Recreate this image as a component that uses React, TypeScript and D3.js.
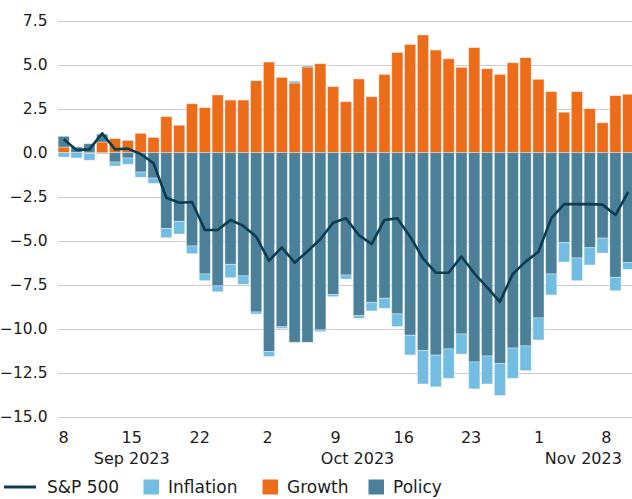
import React from "react";
import * as d3 from "d3";

const dates = [
  "2023-09-08", "2023-09-11", "2023-09-12", "2023-09-13", "2023-09-14", "2023-09-15",
  "2023-09-18", "2023-09-19", "2023-09-20", "2023-09-21", "2023-09-22",
  "2023-09-25", "2023-09-26", "2023-09-27", "2023-09-28", "2023-09-29",
  "2023-10-02", "2023-10-03", "2023-10-04", "2023-10-05", "2023-10-06",
  "2023-10-09", "2023-10-10", "2023-10-11", "2023-10-12", "2023-10-13",
  "2023-10-16", "2023-10-17", "2023-10-18", "2023-10-19", "2023-10-20",
  "2023-10-23", "2023-10-24", "2023-10-25", "2023-10-26", "2023-10-27",
  "2023-10-30", "2023-10-31", "2023-11-01", "2023-11-02", "2023-11-03",
  "2023-11-06", "2023-11-07", "2023-11-08", "2023-11-09",
];

const growth = [
  0.32, 0, -0.05, 0.61, 0.8, 0.7, 1.1, 0.87, 2.05, 1.56, 2.78, 2.56, 3.28, 2.99, 2.99,
  4.09, 5.15, 4.28, 3.96, 4.87, 5.06, 3.75, 2.9, 4.19, 3.18, 4.45, 5.69, 6.15, 6.69, 5.83,
  5.34, 4.85, 5.97, 4.77, 4.45, 5.11, 5.4, 4.17, 3.47, 2.3, 3.47, 2.5, 1.7, 3.24, 3.32,
];

const policy = [
  0.61, 0.32, 0.51, 0.44, -0.53, -0.3, -1.1, -1.44, -4.3, -3.9, -5.3, -6.89, -7.57, -6.34, -7.0,
  -9.05, -11.3, -9.89, -10.77, -10.77, -10.07, -8.05, -6.95, -9.26, -8.5, -8.27, -9.16, -10.37, -11.23, -11.5,
  -11.15, -10.3, -11.89, -11.55, -11.97, -11.1, -10.98, -9.39, -6.89, -5.11, -5.98, -5.4, -4.85, -7.08, -6.25,
];

const inflation = [
  -0.25, -0.3, -0.38, 0, -0.23, -0.36, -0.3, -0.3, -0.53, -0.72, -0.44, -0.38, -0.33, -0.76, -0.48,
  -0.12, -0.28, -0.1, 0.11, 0.08, -0.1, -0.13, -0.23, -0.15, -0.49, -0.57, -0.72, -1.12, -1.91, -1.8,
  -1.67, -1.14, -1.53, -1.59, -1.82, -1.72, -1.4, -1.25, -1.19, -1.1, -1.29, -0.98, -0.85, -0.76, -0.38,
];

const sp500 = [
  0.76, 0.15, 0.19, 1.1, 0.19, 0.23, -0.07, -0.6, -2.56, -2.84, -2.8, -4.39, -4.39, -3.82, -4.16,
  -4.77, -6.14, -5.38, -6.25, -5.6, -4.92, -3.98, -3.73, -4.68, -5.19, -3.82, -3.73, -4.77, -6.0, -6.82,
  -6.82, -5.9, -6.85, -7.65, -8.47, -6.89, -6.19, -5.63, -3.73, -2.92, -2.92, -2.92, -2.95, -3.54, -2.22,
];

const yTicks = [7.5, 5, 2.5, 0, -2.5, -5, -7.5, -10, -12.5, -15];
const xTickLabels = ["8", "15", "22", "2", "9", "16", "23", "1", "8"];
const xTickPos = [0, 5.3, 10.6, 15.9, 21.2, 26.5, 31.75, 37.05, 42.3];
const monthLabels = ["Sep 2023", "Oct 2023", "Nov 2023"];
const monthPos = [5.3, 22.9, 40.5];

const seriesKeys = ["growth", "policy", "inflation"];
const seriesColors: Record<string, string> = {
  growth: "#ED6C1A",
  policy: "#4B8098",
  inflation: "#74BDE2",
};
const lineColor = "#0A3C52";
const legendItems = [
  { key: "sp500", label: "S&P 500", type: "line" },
  { key: "inflation", label: "Inflation", type: "rect" },
  { key: "growth", label: "Growth", type: "rect" },
  { key: "policy", label: "Policy", type: "rect" },
];

const W = 632;
const H = 499;
const FONT = "'DejaVu Sans', sans-serif";

export default function App() {
  const n = dates.length;
  const step = 12.83;
  const x0 = 57.3;
  const x = d3
    .scaleBand<string>()
    .domain(dates)
    .range([x0, x0 + step * n])
    .paddingInner(0.13)
    .paddingOuter(0.065);
  const bw = x.bandwidth();
  const xi = d3
    .scaleLinear()
    .domain([0, n - 1])
    .range([(x(dates[0]) as number) + bw / 2, (x(dates[n - 1]) as number) + bw / 2]);

  const y = d3.scaleLinear().domain([-15, 7.5]).range([416.7, 20.7]);

  const rows = dates.map((d, i) => ({
    date: d,
    growth: growth[i],
    policy: policy[i],
    inflation: inflation[i],
  }));
  const stacked = d3
    .stack<any>()
    .keys(seriesKeys)
    .offset(d3.stackOffsetDiverging)(rows);

  const line = d3
    .line<number>()
    .x((_, i) => xi(i))
    .y((v) => y(v));

  const gridLeft = 58;
  const gridRight = W;

  const legendX = [4, 143.5, 262.5, 368.5];
  const legendY = 487;

  return (
    <div style={{ position: "fixed", left: 0, top: 0, width: W, height: H, background: "#fff" }}>
      <svg width={W} height={H} style={{ display: "block" }} fontFamily={FONT}>
        <rect width={W} height={H} fill="#fff" />
        {yTicks.map((t) => (
          <g key={t}>
            <line
              x1={gridLeft}
              x2={gridRight}
              y1={Math.round(y(t)) + 0.5}
              y2={Math.round(y(t)) + 0.5}
              stroke="#cdcdcd"
              strokeWidth={1}
            />
            <text
              x={47.5}
              y={y(t)}
              dy="0.36em"
              textAnchor="end"
              fontSize={15.5}
              fill="#1c1c1c"
            >
              {d3.format(".1f")(t)}
            </text>
          </g>
        ))}
        {stacked.map((s) => (
          <g key={s.key} fill={seriesColors[s.key]}>
            {s.map((d, i) => {
              const a = y(d[0]);
              const b = y(d[1]);
              const h = Math.abs(a - b);
              if (h < 0.01) return null;
              return (
                <rect
                  key={i}
                  x={x(dates[i])}
                  y={Math.min(a, b)}
                  width={bw}
                  height={h}
                  stroke="#ffffff"
                  strokeOpacity={0.45}
                  strokeWidth={0.8}
                />
              );
            })}
          </g>
        ))}
        <path
          d={line(sp500) || ""}
          fill="none"
          stroke={lineColor}
          strokeWidth={2.6}
          strokeLinejoin="round"
        />
        {xTickLabels.map((l, i) => (
          <text
            key={"xt" + i}
            x={xi(xTickPos[i])}
            y={443.3}
            textAnchor="middle"
            fontSize={16}
            fill="#1c1c1c"
          >
            {l}
          </text>
        ))}
        {monthLabels.map((l, i) => (
          <text
            key={"m" + i}
            x={xi(monthPos[i])}
            y={464}
            textAnchor="middle"
            fontSize={16}
            fill="#1c1c1c"
          >
            {l}
          </text>
        ))}
        {legendItems.map((it, i) => (
          <g key={it.key} transform={`translate(${legendX[i]},${legendY})`}>
            {it.type === "line" ? (
              <line x1={0} x2={32} y1={0} y2={0} stroke={lineColor} strokeWidth={3} />
            ) : (
              <rect x={0} y={-7.5} width={15.5} height={15} fill={seriesColors[it.key]} />
            )}
            <text
              x={it.type === "line" ? 43 : 24.5}
              y={0}
              dy="0.36em"
              fontSize={17}
              fill="#1c1c1c"
            >
              {it.label}
            </text>
          </g>
        ))}
      </svg>
    </div>
  );
}
